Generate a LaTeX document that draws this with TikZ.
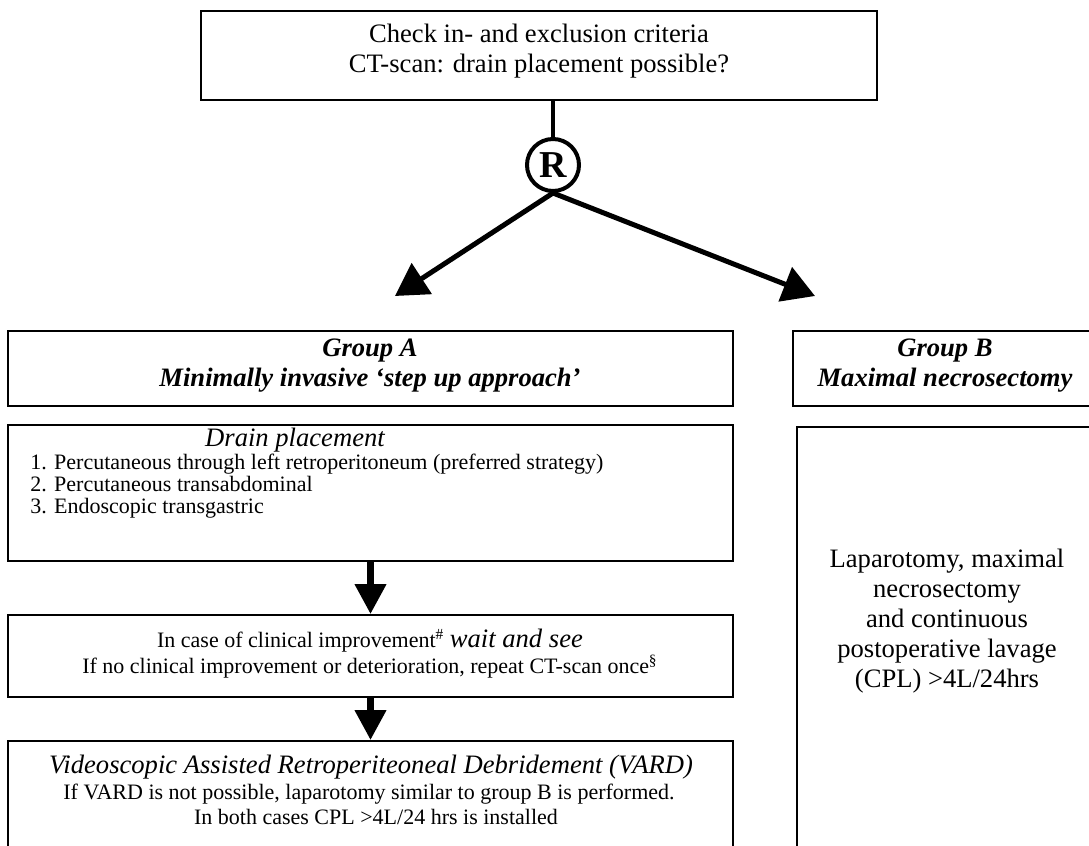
\documentclass[tikz,border=0pt]{standalone}
\usepackage{fontspec}
\setmainfont{Liberation Serif}
\usetikzlibrary{arrows.meta}
\begin{document}
\begin{tikzpicture}[x=0.5pt,y=-0.5pt,
  box/.style={draw, line width=0.9pt, inner sep=0pt, rectangle},
  txt/.style={align=center, inner sep=0pt},
  big/.style={font=\fontsize{13.3}{15}\selectfont},
  heading/.style={font=\fontsize{13.3}{15}\selectfont\bfseries\itshape},
  small/.style={font=\fontsize{11}{11}\selectfont},
  diag/.style={line width=2.5pt, -{Triangle[length=16pt,width=18pt]}},
  down/.style={line width=3.5pt, -{Triangle[length=15pt,width=15pt]}},
  ]
\useasboundingbox (0,0) rectangle (1089,846);
\clip (0,0) rectangle (1089,846);
% boxes
\node[box, minimum width=338pt, minimum height=44.5pt] (topbox) at (539,55.5) {};
\node[box, minimum width=362.5pt, minimum height=37.5pt] (grpA) at (370.5,368.5) {};
\node[box, minimum width=150pt, minimum height=37.5pt] (grpB) at (943,368.5) {};
\node[box, minimum width=362.5pt, minimum height=68pt] (drain) at (370.5,493) {};
\node[box, minimum width=362.5pt, minimum height=41pt] (mid) at (370.5,656) {};
\node[box, minimum width=362.5pt, minimum height=65pt] (vard) at (370.5,806) {};
\node[box, minimum width=150pt, minimum height=221.5pt] (grpBbody) at (947,648.5) {};
% texts
\node[txt, big] (toptext) at (539,51) {Check in- and exclusion criteria\\CT-scan: drain placement possible?};
\node[circle, draw, line width=2pt, minimum size=26pt, inner sep=0pt,
      font=\fontsize{19}{19}\selectfont\bfseries] (R) at (553,165) {R};
\node[txt, heading] (grpAtext) at (370,366) {Group A\\Minimally invasive ‘step up approach’};
\node[txt, heading] (grpBtext) at (945,366) {Group B\\Maximal necrosectomy};
\node[txt, font=\fontsize{13.3}{15}\selectfont\itshape] (draintitle) at (295,440) {Drain placement};
\node[inner sep=0pt, align=left, anchor=west, small] (drainlist) at (30,486)
  {1. Percutaneous through left retroperitoneum (preferred strategy)\\
   2. Percutaneous transabdominal\\
   3. Endoscopic transgastric};
\node[txt, small] (mid1) at (370,641) {In case of clinical improvement\textsuperscript{\#} {\fontsize{13.3}{15}\selectfont\itshape wait and see}};
\node[txt, small] (mid2) at (370,667) {If no clinical improvement or deterioration, repeat CT-scan once\textsuperscript{\S}};
\node[txt, font=\fontsize{13.3}{15}\selectfont\itshape] (vard1) at (371,767) {Videoscopic Assisted Retroperiteoneal Debridement (VARD)};
\node[txt, small] (vard2) at (369,794) {If VARD is not possible, laparotomy similar to group B is performed.};
\node[txt, small] (vard3) at (376,817) {In both cases CPL >4L/24 hrs is installed};
\node[txt, big] (grpBbodytext) at (947,621) {Laparotomy, maximal\\necrosectomy\\and continuous\\postoperative lavage\\(CPL) >4L/24hrs};
% connectors
\coordinate (tipA) at (395,296);
\coordinate (tipB) at (815,296);
\draw[line width=2pt] (topbox.south -| R) -- (R.north);
\draw[diag] (R.south) -- (tipA);
\draw[diag] (R.south) -- (tipB);
\draw[down] (drain.south) -- (mid.north);
\draw[down] (mid.south) -- (vard.north);
\end{tikzpicture}
\end{document}
